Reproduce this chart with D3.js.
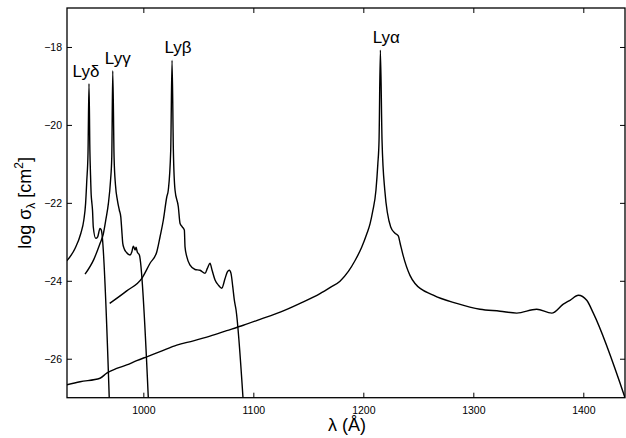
<!DOCTYPE html>
<html>
<head>
<meta charset="utf-8">
<script src="https://cdn.jsdelivr.net/npm/d3@7"></script>
<style>
  body { margin: 0; background: #fff; }
  svg { display: block; font-family: "Liberation Sans", Arial, Helvetica, sans-serif; }
</style>
</head>
<body>
<svg id="chart" width="626" height="438"></svg>
<script>
// Lyman series cross sections (wavelength in Å, log sigma in cm^2)

const lyaLambda = [930.4, 942.5, 960.6, 966.7, 975.8, 984.9, 994.0, 1003.1, 1015.2, 1030.4,
  1045.5, 1060.6, 1075.8, 1090.9, 1106.1, 1125.0, 1142.5, 1160.6, 1170.0, 1178.8, 1186.4,
  1192.5, 1198.5, 1203.1, 1206.1, 1208.5, 1211.5, 1213.2, 1214.3, 1215.5, 1217.0, 1219.5,
  1224.9, 1228.8, 1231.8, 1233.4, 1236.1, 1242.4, 1247.0, 1263.6, 1284.9, 1306.1, 1324.3,
  1339.5, 1357.6, 1371.3, 1381.8, 1387.9, 1395.5, 1403.1, 1409.1, 1437.9];
const lyaSigma = [-26.67, -26.59, -26.50, -26.37, -26.25, -26.16, -26.05, -25.95, -25.82, -25.65,
  -25.54, -25.42, -25.28, -25.14, -24.99, -24.80, -24.58, -24.33, -24.17, -24.01, -23.76,
  -23.48, -23.14, -22.80, -22.54, -22.22, -21.67, -21.00, -20.39, -18.08, -20.39, -21.67,
  -22.62, -22.78, -22.85, -23.03, -23.34, -23.86, -24.07, -24.37, -24.58, -24.73, -24.78,
  -24.83, -24.73, -24.83, -24.60, -24.50, -24.37, -24.50, -24.83, -27.0];

const lybLambda = [969.4, 984.9, 998.8, 1006.1, 1012.2, 1015.2, 1018.2, 1021.3, 1022.7, 1024.9,
  1026.1, 1027.3, 1028.8, 1031.8, 1033.4, 1035.5, 1037.3, 1037.9, 1039.5, 1042.5, 1047.0,
  1051.5, 1056.1, 1058.2, 1060.6, 1062.5, 1065.2, 1068.2, 1071.3, 1074.3, 1076.4, 1078.2,
  1079.7, 1081.3, 1082.7, 1084.3, 1090.6];
const lybSigma = [-24.58, -24.26, -23.93, -23.55, -23.26, -22.87, -22.44, -21.85, -21.67, -20.65,
  -18.34, -20.65, -21.67, -22.10, -22.53, -22.62, -22.70, -23.13, -23.38, -23.60, -23.71,
  -23.73, -23.81, -23.68, -23.55, -23.73, -23.98, -24.11, -24.19, -23.94, -23.77, -23.73,
  -23.81, -24.15, -24.49, -24.75, -27.0];

const lygLambda = [947.0, 955.0, 960.5, 963.6, 966.1, 968.2, 970.2, 971.3, 972.2, 973.4, 974.7,
  976.4, 978.2, 979.5, 980.4, 981.3, 982.5, 984.9, 987.9, 989.5, 990.9, 992.5, 993.4, 994.5,
  996.4, 1004.5];
const lygSigma = [-23.83, -23.45, -23.05, -22.80, -22.40, -22.02, -21.42, -20.83, -18.61, -20.83,
  -21.55, -21.93, -22.19, -22.36, -22.70, -23.04, -23.17, -23.28, -23.34, -23.26, -23.11,
  -23.21, -23.14, -23.26, -23.34, -27.0];

const lydLambda = [930.4, 937.9, 943.2, 945.9, 947.5, 948.6, 949.7, 950.6, 951.4, 952.0, 952.6,
  953.1, 953.8, 954.5, 956.7, 958.5, 960.6, 961.8, 969.0];
const lydSigma = [-23.49, -23.17, -22.78, -22.44, -22.02, -21.42, -20.73, -18.94, -20.65, -21.29,
  -21.80, -21.97, -22.19, -22.62, -22.91, -22.87, -22.66, -22.70, -27.0];

const lineNames = ['Lyα', 'Lyβ', 'Lyγ', 'Lyδ'];

const xTicks = [1000, 1100, 1200, 1300, 1400];
const yTicks = [-26, -24, -22, -20, -18];

const svg = d3.select('#chart');
const W = 626, H = 438;
const margin = { top: 8, right: 1, bottom: 40.3, left: 67 };

const x = d3.scaleLinear().domain([930.6, 1437.9]).range([margin.left, W - margin.right]);
const y = d3.scaleLinear().domain([-27, -17]).range([H - margin.bottom, margin.top]);

const fmt = d3.format('d');

// clip for the curves
svg.append('clipPath').attr('id', 'plot-clip')
  .append('rect')
  .attr('x', x.range()[0]).attr('y', y.range()[1])
  .attr('width', x.range()[1] - x.range()[0])
  .attr('height', y.range()[0] - y.range()[1]);

// axes, ticks pointing inward on all four sides
const axisStyle = g => {
  g.select('.domain').remove();
  g.selectAll('.tick line').attr('stroke', '#000').attr('stroke-width', 1);
  g.selectAll('.tick text').attr('fill', '#000').style('font-size', '10.5px');
};

svg.append('g')
  .attr('transform', `translate(0,${y.range()[0]})`)
  .call(d3.axisBottom(x).tickValues(xTicks).tickFormat(fmt).tickSizeInner(-5).tickSizeOuter(0).tickPadding(9))
  .call(axisStyle);

svg.append('g')
  .attr('transform', `translate(0,${y.range()[1]})`)
  .call(d3.axisTop(x).tickValues(xTicks).tickFormat('').tickSizeInner(-5).tickSizeOuter(0))
  .call(axisStyle);

svg.append('g')
  .attr('transform', `translate(${x.range()[0]},0)`)
  .call(d3.axisLeft(y).tickValues(yTicks).tickFormat(fmt).tickSizeInner(-5).tickSizeOuter(0).tickPadding(5))
  .call(axisStyle);

svg.append('g')
  .attr('transform', `translate(${x.range()[1]},0)`)
  .call(d3.axisRight(y).tickValues(yTicks).tickFormat('').tickSizeInner(-5).tickSizeOuter(0))
  .call(axisStyle);

// frame
svg.append('rect')
  .attr('x', x.range()[0]).attr('y', y.range()[1])
  .attr('width', x.range()[1] - x.range()[0])
  .attr('height', y.range()[0] - y.range()[1])
  .attr('fill', 'none').attr('stroke', '#000').attr('stroke-width', 1.3);

// curves
const curves = [
  [lyaLambda, lyaSigma],
  [lybLambda, lybSigma],
  [lygLambda, lygSigma],
  [lydLambda, lydSigma]
];

const line = d3.line()
  .x(d => x(d[0]))
  .y(d => y(d[1]))
  .curve(d3.curveMonotoneX);

const plot = svg.append('g').attr('clip-path', 'url(#plot-clip)');

curves.forEach(([lam, sig]) => {
  plot.append('path')
    .datum(d3.zip(lam, sig))
    .attr('d', line)
    .attr('fill', 'none')
    .attr('stroke', '#000')
    .attr('stroke-width', 1.4)
    .attr('stroke-linejoin', 'round');
});

// line labels just above each peak
const labelDx = [6, 6, 5, -3];
curves.forEach(([lam, sig], i) => {
  const k = d3.maxIndex(sig);
  svg.append('text')
    .attr('x', x(lam[k]) + labelDx[i])
    .attr('y', y(sig[k]) - 7)
    .attr('text-anchor', 'middle')
    .style('font-size', '17px')
    .text(lineNames[i]);
});

// axis titles
svg.append('text')
  .attr('x', (x.range()[0] + x.range()[1]) / 2 + 1)
  .attr('y', 431)
  .attr('text-anchor', 'middle')
  .style('font-size', '18px')
  .text('λ (Å)');

const yt = svg.append('text')
  .attr('transform', `translate(31,${(y.range()[0] + y.range()[1]) / 2})rotate(-90)`)
  .attr('text-anchor', 'middle')
  .style('font-size', '18px');
yt.append('tspan').text('log σ');
yt.append('tspan').attr('dy', 4).style('font-size', '12px').text('λ');
yt.append('tspan').attr('dy', -4).text(' [cm');
yt.append('tspan').attr('dy', -8).style('font-size', '12px').text('2');
yt.append('tspan').attr('dy', 8).text(']');
</script>
</body>
</html>
